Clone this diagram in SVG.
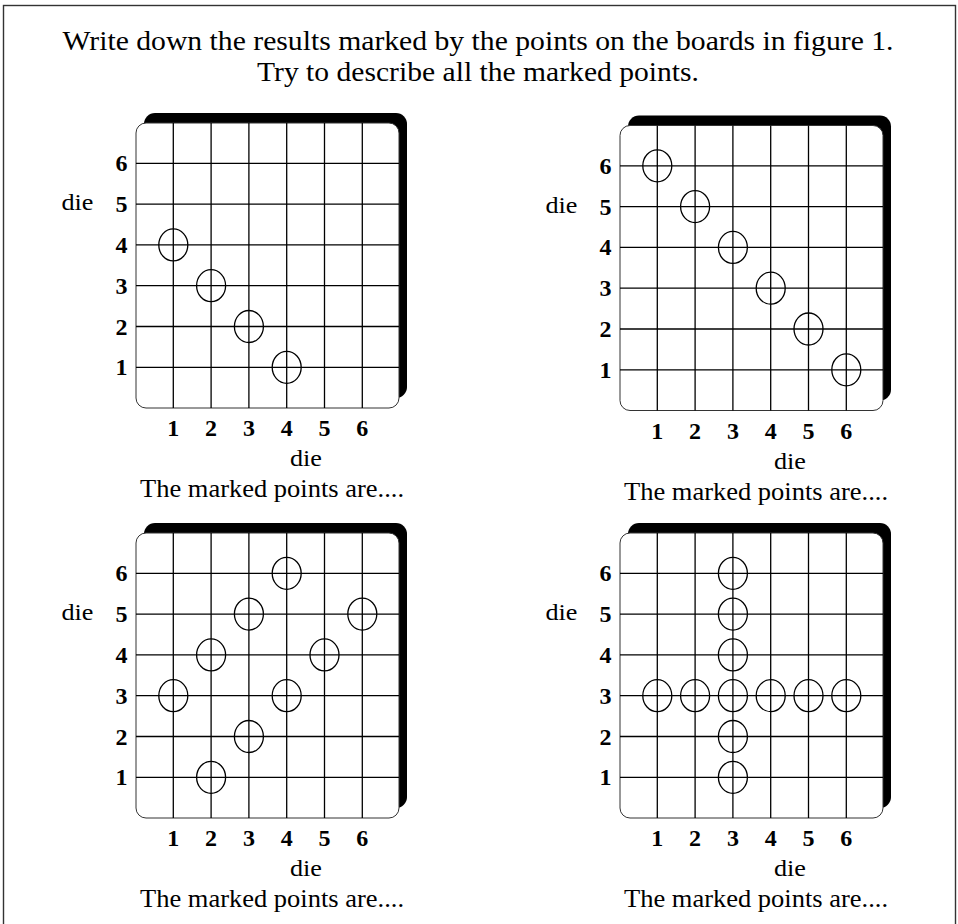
<svg xmlns="http://www.w3.org/2000/svg" xmlns:xlink="http://www.w3.org/1999/xlink" width="958" height="924" viewBox="0 0 958 924">
<style>
text{font-family:"Liberation Serif","Times New Roman",serif;fill:#000}
.title{font-size:28px;text-anchor:middle}
.num{font-size:24px;font-weight:bold;text-anchor:middle}
.lbl{font-size:24px;text-anchor:middle}
.cap{font-size:25px;text-anchor:middle}
.grid line{stroke:#000;stroke-width:1.3}
.pt{fill:none;stroke:#000;stroke-width:1.3}
.shadow{fill:#000}
.face{fill:#fff;stroke:#333;stroke-width:1}
</style>
<defs>
<g id="board">
<rect class="shadow" x="144" y="113" width="263" height="285" rx="11"/>
<rect class="face" x="136" y="123" width="263" height="285" rx="10"/>
<g class="grid">
<line x1="173.3" y1="123" x2="173.3" y2="408"/>
<line x1="211.1" y1="123" x2="211.1" y2="408"/>
<line x1="248.9" y1="123" x2="248.9" y2="408"/>
<line x1="286.7" y1="123" x2="286.7" y2="408"/>
<line x1="324.5" y1="123" x2="324.5" y2="408"/>
<line x1="362.3" y1="123" x2="362.3" y2="408"/>
<line x1="136" y1="163.3" x2="399" y2="163.3"/>
<line x1="136" y1="204.1" x2="399" y2="204.1"/>
<line x1="136" y1="244.9" x2="399" y2="244.9"/>
<line x1="136" y1="285.7" x2="399" y2="285.7"/>
<line x1="136" y1="326.5" x2="399" y2="326.5"/>
<line x1="136" y1="367.3" x2="399" y2="367.3"/>
</g>
<text class="num" x="121.5" y="171.3">6</text>
<text class="num" x="121.5" y="212.1">5</text>
<text class="num" x="121.5" y="252.9">4</text>
<text class="num" x="121.5" y="293.7">3</text>
<text class="num" x="121.5" y="334.5">2</text>
<text class="num" x="121.5" y="375.3">1</text>
<text class="num" x="173.3" y="436">1</text>
<text class="num" x="211.1" y="436">2</text>
<text class="num" x="248.9" y="436">3</text>
<text class="num" x="286.7" y="436">4</text>
<text class="num" x="324.5" y="436">5</text>
<text class="num" x="362.3" y="436">6</text>
<text class="lbl" x="77.5" y="210" textLength="32" lengthAdjust="spacingAndGlyphs">die</text>
<text class="lbl" x="306" y="466" textLength="32" lengthAdjust="spacingAndGlyphs">die</text>
<text class="cap" x="272" y="497" textLength="264" lengthAdjust="spacingAndGlyphs">The marked points are....</text>
</g>
</defs>
<rect x="3.5" y="5.5" width="952" height="930" fill="none" stroke="#333" stroke-width="1.4"/>
<g id="title">
<text class="title" x="478" y="50" textLength="831" lengthAdjust="spacingAndGlyphs">Write down the results marked by the points on the boards in figure 1.</text>
<text class="title" x="478" y="81" textLength="442" lengthAdjust="spacingAndGlyphs">Try to describe all the marked points.</text>
</g>
<g id="board-top-left">
<use xlink:href="#board"/>
<ellipse class="pt" cx="173.3" cy="244.9" rx="14.5" ry="16"/>
<ellipse class="pt" cx="211.1" cy="285.7" rx="14.5" ry="16"/>
<ellipse class="pt" cx="248.9" cy="326.5" rx="14.5" ry="16"/>
<ellipse class="pt" cx="286.7" cy="367.3" rx="14.5" ry="16"/>
</g>
<g id="board-top-right" transform="translate(484,2.5)">
<use xlink:href="#board"/>
<ellipse class="pt" cx="173.3" cy="163.3" rx="14.5" ry="16"/>
<ellipse class="pt" cx="211.1" cy="204.1" rx="14.5" ry="16"/>
<ellipse class="pt" cx="248.9" cy="244.9" rx="14.5" ry="16"/>
<ellipse class="pt" cx="286.7" cy="285.7" rx="14.5" ry="16"/>
<ellipse class="pt" cx="324.5" cy="326.5" rx="14.5" ry="16"/>
<ellipse class="pt" cx="362.3" cy="367.3" rx="14.5" ry="16"/>
</g>
<g id="board-bottom-left" transform="translate(0,410)">
<use xlink:href="#board"/>
<ellipse class="pt" cx="173.3" cy="285.7" rx="14.5" ry="16"/>
<ellipse class="pt" cx="211.1" cy="244.9" rx="14.5" ry="16"/>
<ellipse class="pt" cx="211.1" cy="367.3" rx="14.5" ry="16"/>
<ellipse class="pt" cx="248.9" cy="204.1" rx="14.5" ry="16"/>
<ellipse class="pt" cx="248.9" cy="326.5" rx="14.5" ry="16"/>
<ellipse class="pt" cx="286.7" cy="163.3" rx="14.5" ry="16"/>
<ellipse class="pt" cx="286.7" cy="285.7" rx="14.5" ry="16"/>
<ellipse class="pt" cx="324.5" cy="244.9" rx="14.5" ry="16"/>
<ellipse class="pt" cx="362.3" cy="204.1" rx="14.5" ry="16"/>
</g>
<g id="board-bottom-right" transform="translate(484,410)">
<use xlink:href="#board"/>
<ellipse class="pt" cx="248.9" cy="163.3" rx="14.5" ry="16"/>
<ellipse class="pt" cx="248.9" cy="204.1" rx="14.5" ry="16"/>
<ellipse class="pt" cx="248.9" cy="244.9" rx="14.5" ry="16"/>
<ellipse class="pt" cx="248.9" cy="326.5" rx="14.5" ry="16"/>
<ellipse class="pt" cx="248.9" cy="367.3" rx="14.5" ry="16"/>
<ellipse class="pt" cx="173.3" cy="285.7" rx="14.5" ry="16"/>
<ellipse class="pt" cx="211.1" cy="285.7" rx="14.5" ry="16"/>
<ellipse class="pt" cx="248.9" cy="285.7" rx="14.5" ry="16"/>
<ellipse class="pt" cx="286.7" cy="285.7" rx="14.5" ry="16"/>
<ellipse class="pt" cx="324.5" cy="285.7" rx="14.5" ry="16"/>
<ellipse class="pt" cx="362.3" cy="285.7" rx="14.5" ry="16"/>
</g>
</svg>
